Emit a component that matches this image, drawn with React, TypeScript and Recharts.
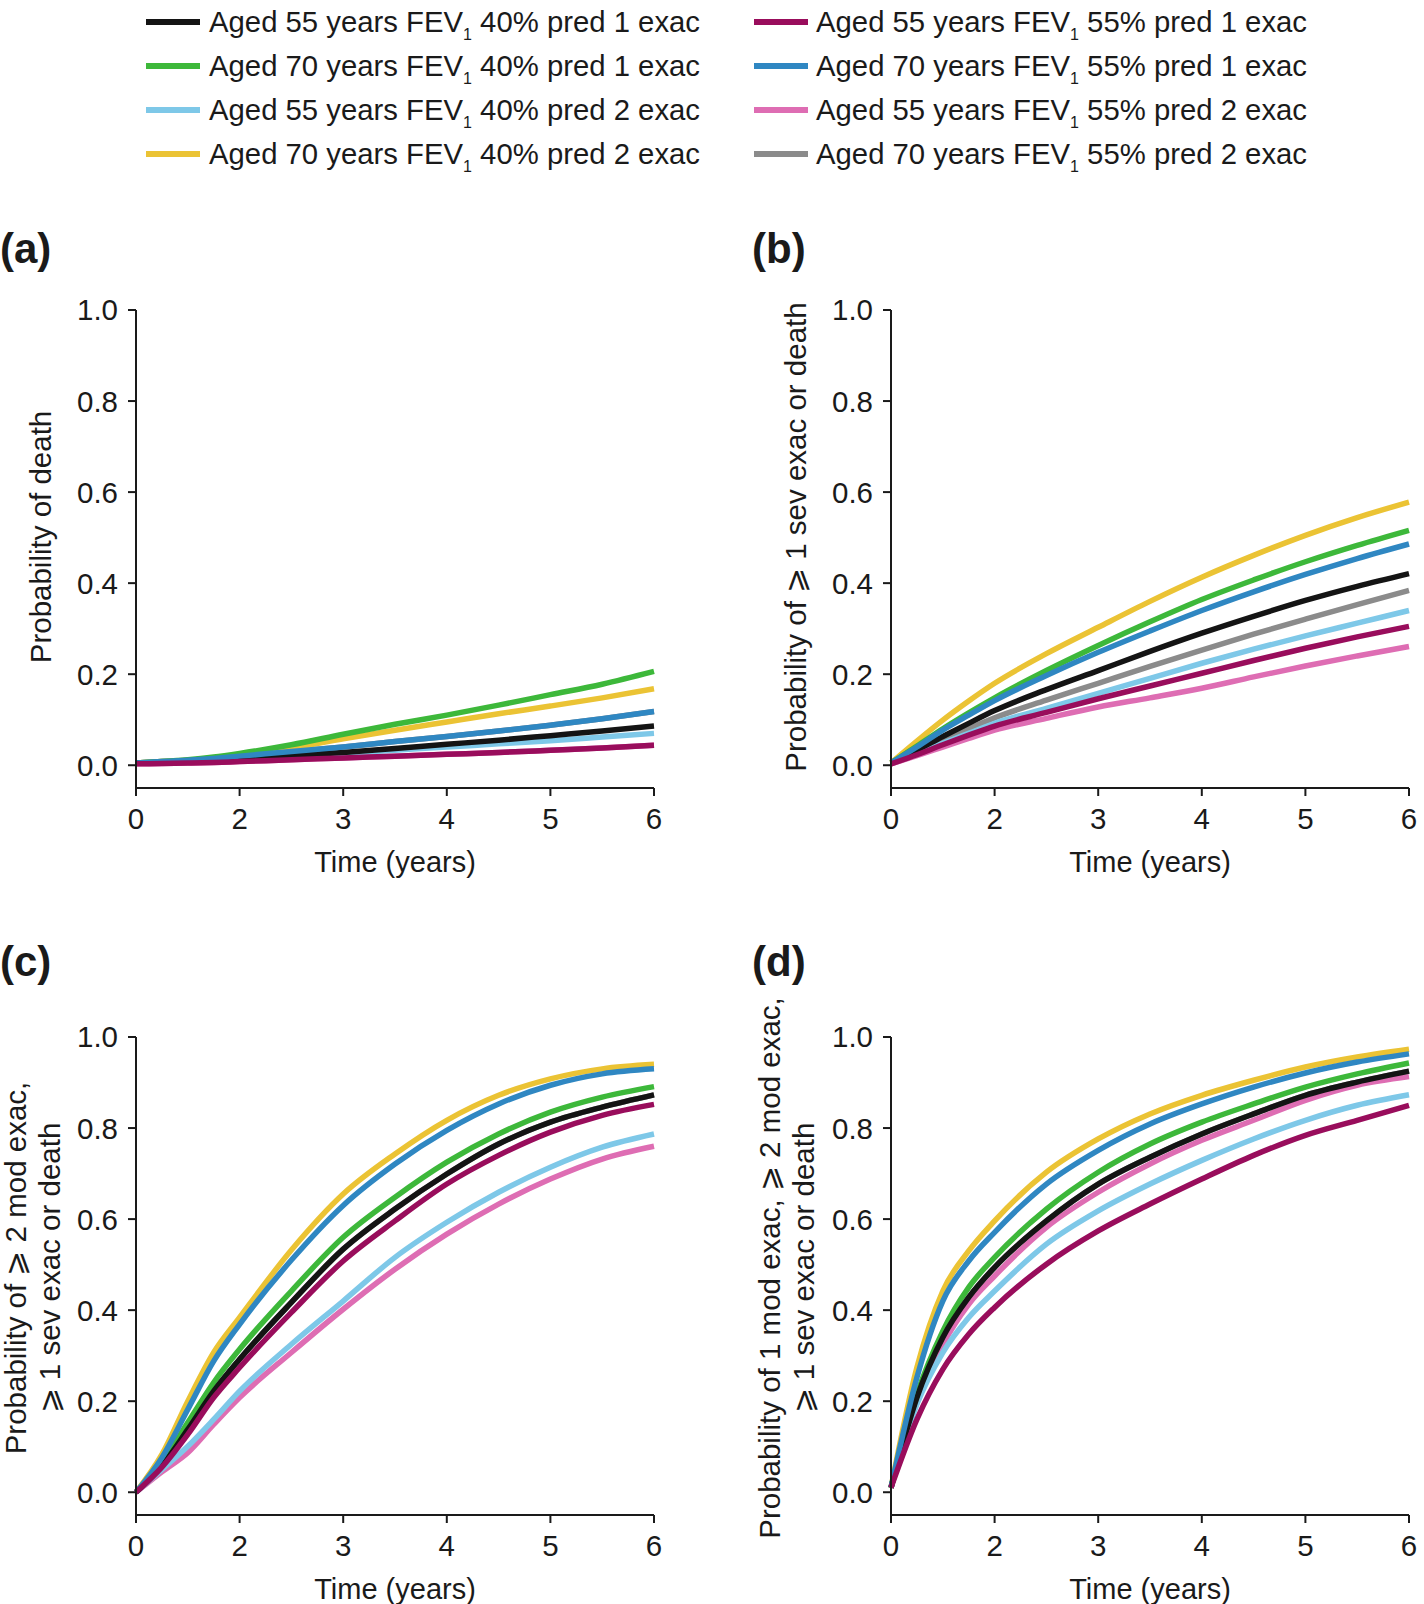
import { LineChart, Line, XAxis, YAxis } from 'recharts'

// x positions on the axis (evenly spaced ticks) and the labels printed under them
const xTickPositions = [0, 1, 2, 3, 4, 5]
const xTickLabels = ['0', '2', '3', '4', '5', '6']
const timePoints = [0, 0.25, 0.5, 0.75, 1, 1.5, 2, 2.5, 3, 3.5, 4, 4.5, 5]
const yTicks = [0, 0.2, 0.4, 0.6, 0.8, 1]

// series: age, FEV1 % pred, exacerbations
const seriesKeys = ['s55_40_1', 's70_40_1', 's55_40_2', 's70_40_2', 's55_55_1', 's70_55_1', 's55_55_2', 's70_55_2']
const seriesAges = ['55', '70', '55', '70', '55', '70', '55', '70']
const seriesFev = ['40%', '40%', '40%', '40%', '55%', '55%', '55%', '55%']
const seriesExac = ['1', '1', '2', '2', '1', '1', '2', '2']
const seriesColors = ['#141414', '#3db83a', '#7ec8e8', '#ebc334', '#990d5c', '#2f87c2', '#de6db3', '#8b8b8b']
// painting order (last is on top)
const drawOrder = ['s70_55_2', 's55_55_2', 's55_40_2', 's70_40_2', 's70_40_1', 's55_40_1', 's70_55_1', 's55_55_1']

// (a) probability of death
const death_55_40_1 = [0.005, 0.006, 0.008, 0.011, 0.014, 0.021, 0.028, 0.037, 0.046, 0.055, 0.065, 0.075, 0.086]
const death_70_40_1 = [0.005, 0.008, 0.012, 0.018, 0.026, 0.045, 0.068, 0.09, 0.11, 0.132, 0.155, 0.178, 0.206]
const death_55_40_2 = [0.005, 0.006, 0.008, 0.01, 0.013, 0.019, 0.026, 0.033, 0.04, 0.047, 0.054, 0.062, 0.07]
const death_70_40_2 = [0.005, 0.008, 0.011, 0.016, 0.022, 0.038, 0.058, 0.077, 0.095, 0.113, 0.13, 0.148, 0.168]
const death_55_55_1 = [0.003, 0.004, 0.005, 0.006, 0.008, 0.012, 0.016, 0.02, 0.024, 0.028, 0.033, 0.038, 0.044]
const death_70_55_1 = [0.005, 0.008, 0.011, 0.015, 0.02, 0.03, 0.04, 0.052, 0.063, 0.075, 0.088, 0.102, 0.118]
const death_55_55_2 = [0.003, 0.004, 0.005, 0.006, 0.008, 0.012, 0.016, 0.02, 0.024, 0.028, 0.033, 0.038, 0.044]
const death_70_55_2 = [0.005, 0.008, 0.011, 0.015, 0.02, 0.03, 0.04, 0.052, 0.063, 0.075, 0.088, 0.102, 0.118]

// (b) probability of >=1 severe exacerbation or death
const sev_55_40_1 = [0.005, 0.033, 0.063, 0.092, 0.12, 0.166, 0.208, 0.25, 0.29, 0.327, 0.362, 0.393, 0.421]
const sev_70_40_1 = [0.005, 0.042, 0.08, 0.115, 0.148, 0.208, 0.263, 0.315, 0.364, 0.407, 0.447, 0.483, 0.516]
const sev_55_40_2 = [0.005, 0.025, 0.048, 0.07, 0.092, 0.125, 0.158, 0.191, 0.224, 0.255, 0.284, 0.312, 0.34]
const sev_70_40_2 = [0.005, 0.053, 0.099, 0.141, 0.18, 0.245, 0.303, 0.36, 0.413, 0.461, 0.505, 0.544, 0.578]
const sev_55_55_1 = [0.003, 0.023, 0.045, 0.066, 0.086, 0.116, 0.146, 0.174, 0.202, 0.23, 0.257, 0.282, 0.305]
const sev_70_55_1 = [0.005, 0.04, 0.077, 0.11, 0.142, 0.197, 0.248, 0.295, 0.34, 0.381, 0.419, 0.454, 0.486]
const sev_55_55_2 = [0.003, 0.021, 0.04, 0.059, 0.077, 0.103, 0.128, 0.148, 0.169, 0.194, 0.218, 0.24, 0.261]
const sev_70_55_2 = [0.005, 0.028, 0.054, 0.08, 0.104, 0.143, 0.18, 0.217, 0.253, 0.288, 0.321, 0.353, 0.384]

// (c) probability of >=2 mod exac, >=1 sev exac or death
const mod2_55_40_1 = [0, 0.058, 0.138, 0.222, 0.292, 0.417, 0.534, 0.622, 0.699, 0.765, 0.813, 0.846, 0.873]
const mod2_70_40_1 = [0, 0.065, 0.153, 0.241, 0.314, 0.442, 0.56, 0.648, 0.725, 0.787, 0.835, 0.868, 0.891]
const mod2_55_40_2 = [0, 0.05, 0.101, 0.16, 0.222, 0.325, 0.42, 0.516, 0.593, 0.659, 0.714, 0.758, 0.787]
const mod2_70_40_2 = [0, 0.083, 0.2, 0.307, 0.384, 0.532, 0.655, 0.743, 0.817, 0.872, 0.908, 0.93, 0.94]
const mod2_55_55_1 = [0, 0.055, 0.127, 0.208, 0.274, 0.395, 0.508, 0.596, 0.677, 0.74, 0.791, 0.828, 0.852]
const mod2_70_55_1 = [0, 0.076, 0.182, 0.288, 0.369, 0.51, 0.63, 0.721, 0.795, 0.853, 0.894, 0.919, 0.93]
const mod2_55_55_2 = [0, 0.045, 0.087, 0.149, 0.208, 0.307, 0.402, 0.49, 0.567, 0.633, 0.688, 0.732, 0.76]
const mod2_70_55_2 = [0, 0.058, 0.138, 0.222, 0.292, 0.417, 0.534, 0.622, 0.699, 0.765, 0.813, 0.846, 0.873]

// (d) probability of 1 mod exac, >=2 mod exac, >=1 sev exac or death
const mod1_55_40_1 = [0.01, 0.208, 0.34, 0.428, 0.494, 0.596, 0.677, 0.736, 0.787, 0.831, 0.872, 0.901, 0.925]
const mod1_70_40_1 = [0.01, 0.215, 0.354, 0.45, 0.516, 0.622, 0.703, 0.765, 0.813, 0.853, 0.89, 0.919, 0.943]
const mod1_55_40_2 = [0.01, 0.193, 0.307, 0.384, 0.442, 0.545, 0.618, 0.677, 0.729, 0.776, 0.817, 0.85, 0.873]
const mod1_70_40_2 = [0.01, 0.274, 0.442, 0.53, 0.596, 0.703, 0.776, 0.831, 0.872, 0.905, 0.934, 0.956, 0.973]
const mod1_55_55_1 = [0.01, 0.16, 0.27, 0.347, 0.406, 0.501, 0.574, 0.633, 0.688, 0.74, 0.784, 0.817, 0.85]
const mod1_70_55_1 = [0.01, 0.252, 0.42, 0.508, 0.571, 0.677, 0.751, 0.809, 0.853, 0.89, 0.921, 0.945, 0.963]
const mod1_55_55_2 = [0.01, 0.204, 0.325, 0.413, 0.475, 0.582, 0.659, 0.721, 0.773, 0.817, 0.861, 0.894, 0.913]
const mod1_70_55_2 = [0.01, 0.208, 0.34, 0.428, 0.494, 0.596, 0.677, 0.736, 0.787, 0.831, 0.872, 0.901, 0.925]

const buildData = (cols: number[][]) =>
  timePoints.map((t, i) => {
    const row: Record<string, number> = { t }
    seriesKeys.forEach((k, j) => {
      row[k] = cols[j][i]
    })
    return row
  })

const deathData = buildData([death_55_40_1, death_70_40_1, death_55_40_2, death_70_40_2, death_55_55_1, death_70_55_1, death_55_55_2, death_70_55_2])
const sevData = buildData([sev_55_40_1, sev_70_40_1, sev_55_40_2, sev_70_40_2, sev_55_55_1, sev_70_55_1, sev_55_55_2, sev_70_55_2])
const mod2Data = buildData([mod2_55_40_1, mod2_70_40_1, mod2_55_40_2, mod2_70_40_2, mod2_55_55_1, mod2_70_55_1, mod2_55_55_2, mod2_70_55_2])
const mod1Data = buildData([mod1_55_40_1, mod1_70_40_1, mod1_55_40_2, mod1_70_40_2, mod1_55_55_1, mod1_70_55_1, mod1_55_55_2, mod1_70_55_2])

const FONT = '"Liberation Sans", Arial, Helvetica, sans-serif'
const INK = '#1a1a1a'

function Panel({ data, left, top, height, letter, letterTop, yLabel, labelX, labelY }: {
  data: Record<string, number>[]
  left: number
  top: number
  height: number
  letter: string
  letterTop: number
  yLabel: string[]
  labelX: number
  labelY: number
}) {
  const tickStyle = { fill: INK, fontSize: 29.5, fontFamily: FONT }
  return (
    <>
      <div style={{ position: 'absolute', left: left === 0 ? 0 : left - 3, top: letterTop, fontSize: 42, fontWeight: 700, lineHeight: '42px', fontFamily: FONT, color: INK }}>
        {letter}
      </div>
      <div
        style={{
          position: 'absolute',
          left: labelX,
          top: labelY,
          transform: 'translate(-50%, -50%) rotate(-90deg)',
          whiteSpace: 'nowrap',
          textAlign: 'center',
          fontSize: 29.5,
          lineHeight: '34px',
          fontFamily: FONT,
          color: INK,
        }}
      >
        {yLabel.map((l, i) => (
          <div key={i}>{l}</div>
        ))}
      </div>
      <div style={{ position: 'absolute', left, top }}>
        <LineChart width={664} height={height} data={data} margin={{ top: 40, right: 10, left: 0, bottom: height - 40 - 478 - 90 }}>
          <XAxis
            dataKey="t"
            type="number"
            domain={[0, 5]}
            ticks={xTickPositions}
            interval={0}
            tickFormatter={(v) => xTickLabels[v]}
            tick={tickStyle}
            tickSize={8}
            tickMargin={12}
            axisLine={{ stroke: INK, strokeWidth: 2 }}
            tickLine={{ stroke: INK, strokeWidth: 2 }}
            height={90}
            label={{ value: 'Time (years)', position: 'insideBottom', offset: 6, fill: INK, fontSize: 29, fontFamily: FONT }}
          />
          <YAxis
            type="number"
            domain={[-0.05, 1]}
            allowDataOverflow
            ticks={yTicks}
            interval={0}
            tickFormatter={(v) => v.toFixed(1)}
            tick={tickStyle}
            tickSize={8}
            tickMargin={10}
            axisLine={{ stroke: INK, strokeWidth: 2 }}
            tickLine={{ stroke: INK, strokeWidth: 2 }}
            width={136}
          />
          {drawOrder.map((k) => (
            <Line
              key={k}
              type="monotone"
              dataKey={k}
              stroke={seriesColors[seriesKeys.indexOf(k)]}
              strokeWidth={5.5}
              dot={false}
              isAnimationActive={false}
            />
          ))}
        </LineChart>
      </div>
    </>
  )
}

function LegendBlock() {
  const rows = [0, 1, 2, 3]
  const cols = [
    { lineX: 146, textX: 209, start: 0 },
    { lineX: 754, textX: 816, start: 4 },
  ]
  return (
    <>
      {cols.map((c) =>
        rows.map((r) => {
          const i = c.start + r
          const cy = 21.5 + r * 44
          return (
            <div key={i}>
              <div style={{ position: 'absolute', left: c.lineX, top: cy - 3, width: 54, height: 6, background: seriesColors[i] }} />
              <div style={{ position: 'absolute', left: c.textX, top: cy - 17, fontSize: 29.3, lineHeight: '34px', whiteSpace: 'nowrap', fontFamily: FONT, color: INK }}>
                Aged {seriesAges[i]} years FEV<sub style={{ fontSize: 16, verticalAlign: -8, lineHeight: 0 }}>1</sub> {seriesFev[i]} pred {seriesExac[i]} exac
              </div>
            </div>
          )
        })
      )}
    </>
  )
}

export default function App() {
  return (
    <div style={{ position: 'absolute', left: 0, top: 0, width: 1424, height: 1604, overflow: 'hidden', background: '#fff', fontFamily: FONT }}>
      <LegendBlock />
      <Panel data={deathData} left={0} top={270} height={618} letter="(a)" letterTop={228} yLabel={['Probability of death']} labelX={41} labelY={537} />
      <Panel data={sevData} left={755} top={270} height={618} letter="(b)" letterTop={228} yLabel={['Probability of ⩾ 1 sev exac or death']} labelX={796} labelY={537} />
      <Panel data={mod2Data} left={0} top={997} height={608} letter="(c)" letterTop={941} yLabel={['Probability of ⩾ 2 mod exac,', '⩾ 1 sev exac or death']} labelX={33} labelY={1268} />
      <Panel data={mod1Data} left={755} top={997} height={608} letter="(d)" letterTop={941} yLabel={['Probability of 1 mod exac, ⩾ 2 mod exac,', '⩾ 1 sev exac or death']} labelX={787} labelY={1268} />
    </div>
  )
}
